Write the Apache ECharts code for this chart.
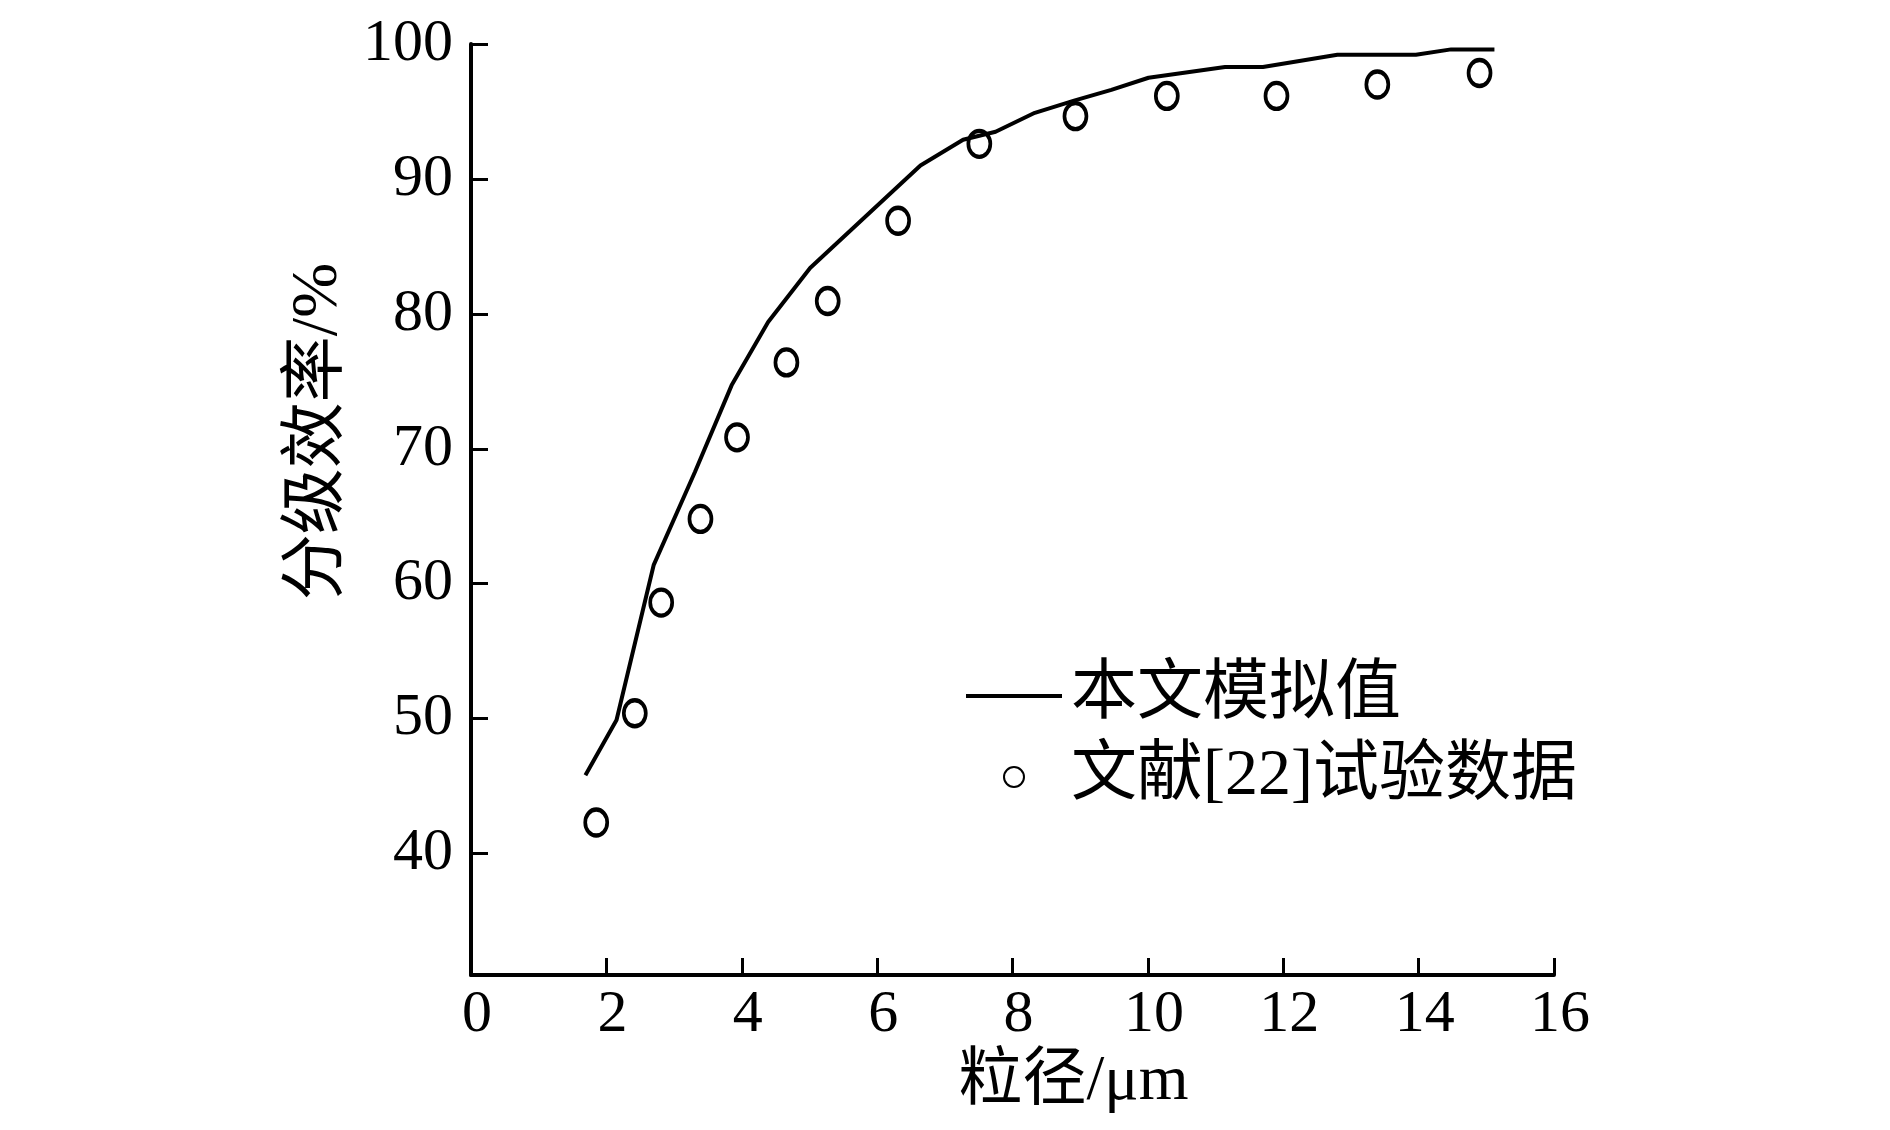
<!DOCTYPE html>
<html>
<head>
<meta charset="utf-8">
<title>分级效率</title>
<script src="https://cdn.jsdelivr.net/npm/echarts@6/dist/echarts.min.js"></script>
<style>
  html, body { margin: 0; padding: 0; background: #fff; }
  #chart { width: 1890px; height: 1130px; }
</style>
</head>
<body>
<div id="chart"></div>
<script>
// 本文模拟值
const simX = [1.69, 2.15, 2.70, 3.31, 3.85, 4.39, 5.01, 6.64, 7.27, 7.75, 8.33, 8.91, 9.46, 10.01, 11.14, 11.70, 12.80, 13.96, 14.48, 15.12]
const simY = [45.8, 49.9, 61.4, 68.3, 74.7, 79.4, 83.4, 91.0, 92.9, 93.5, 94.9, 95.8, 96.6, 97.5, 98.3, 98.3, 99.2, 99.2, 99.6, 99.6]
// 文献[22]试验数据
const expX = [1.85, 2.42, 2.81, 3.39, 3.93, 4.66, 5.27, 6.31, 7.51, 8.93, 10.28, 11.90, 13.39, 14.90]
const expY = [42.3, 50.4, 58.6, 64.8, 70.85, 76.4, 80.95, 86.9, 92.6, 94.65, 96.15, 96.15, 97.0, 97.85]
// 刻度
const xTicks = [0, 2, 4, 6, 8, 10, 12, 14, 16]
const yTicks = [40, 50, 60, 70, 80, 90, 100]
const names = ['本文模拟值', '文献[22]试验数据']

const font = "'Liberation Serif', 'Noto Sans CJK SC', serif"

const chart = echarts.init(document.getElementById('chart'))
chart.setOption({
  animation: false,
  backgroundColor: '#fff',
  grid: {
    left: 471,
    right: 336,
    top: 44,
    bottom: 155
  },
  legend: {
    orient: 'vertical',
    left: 961,
    top: 658,
    itemWidth: 96,
    itemHeight: 20,
    itemGap: 15,
    textStyle: {
      fontFamily: font,
      fontSize: 66,
      color: '#000',
      padding: [0, 0, 0, 4]
    },
    data: [
      { name: names[0], icon: 'path://M0,0H96V4H0Z' },
      { name: names[1] }
    ]
  },
  xAxis: {
    type: 'value',
    min: xTicks[0],
    max: xTicks[xTicks.length - 1],
    interval: 2,
    name: '粒径/μm',
    nameLocation: 'middle',
    nameGap: 70,
    nameTextStyle: {
      fontFamily: font,
      fontSize: 64,
      color: '#000',
      padding: [0, 0, 0, 122]
    },
    splitLine: { show: false },
    axisLine: { lineStyle: { color: '#000', width: 4 } },
    axisTick: {
      inside: true,
      length: 17,
      lineStyle: { color: '#000', width: 3 }
    },
    axisLabel: {
      fontFamily: font,
      fontSize: 60,
      color: '#000',
      margin: 10,
      padding: [0, 0, 0, 12]
    }
  },
  yAxis: {
    type: 'value',
    min: 31,
    max: 100,
    name: '分级效率/%',
    nameLocation: 'middle',
    nameGap: 108,
    nameTextStyle: {
      fontFamily: font,
      fontSize: 66,
      color: '#000',
      padding: [0, 0, 0, 156]
    },
    splitLine: { show: false },
    axisLine: { show: true, lineStyle: { color: '#000', width: 4 } },
    axisTick: {
      show: true,
      inside: true,
      length: 17,
      customValues: yTicks,
      lineStyle: { color: '#000', width: 3 }
    },
    axisLabel: {
      fontFamily: font,
      fontSize: 60,
      color: '#000',
      margin: 18,
      customValues: yTicks,
      padding: [0, 0, 12, 0]
    }
  },
  series: [
    {
      name: names[0],
      type: 'line',
      data: simX.map((x, i) => [x, simY[i]]),
      symbol: 'none',
      lineStyle: { color: '#000', width: 4 },
      itemStyle: { color: '#000' }
    },
    {
      name: names[1],
      type: 'scatter',
      data: expX.map((x, i) => [x, expY[i]]),
      symbol: 'circle',
      symbolSize: [22, 26],
      itemStyle: { color: '#fff', borderColor: '#000', borderWidth: 4, opacity: 1 }
    }
  ]
})
</script>
</body>
</html>
